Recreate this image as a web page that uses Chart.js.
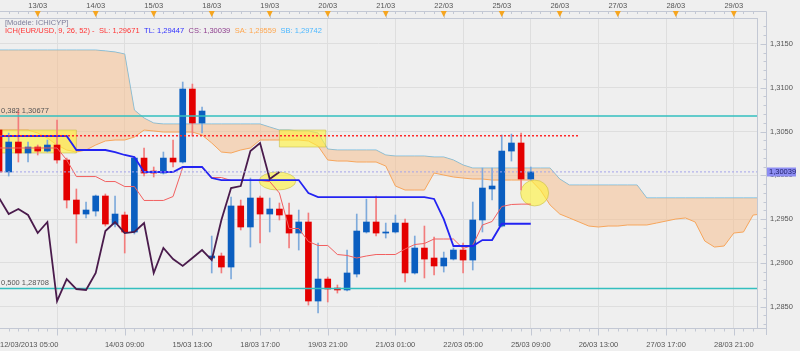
<!DOCTYPE html>
<html>
<head>
<meta charset="utf-8">
<title>EUR/USD - Ichimoku</title>
<script src="https://cdn.jsdelivr.net/npm/chart.js@4.4.0/dist/chart.umd.min.js"></script>
<style>
  html, body { margin: 0; padding: 0; background: #efefef; }
  #wrap { width: 800px; height: 351px; }
</style>
</head>
<body>
<div id="wrap"><canvas id="ichChart" width="800" height="351"></canvas></div>
<script>
// 4H candles, index 0 = 12/03/2013 05:00
const opens = [
  1.30517, 1.30038, 1.30380, 1.30255, 1.30323, 1.30277, 1.30346, 1.30175, 1.29718, 1.29558,
  1.29592, 1.29764, 1.29444, 1.29547, 1.29353, 1.30197, 1.30049, 1.30026, 1.30197, 1.30152,
  1.30985, 1.30597, 1.29056, 1.29079, 1.28953, 1.29650, 1.29410, 1.29741, 1.29558, 1.29615,
  1.29547, 1.29341, 1.29467, 1.28565, 1.28816, 1.28713, 1.28691, 1.28873, 1.29353, 1.29467,
  1.29341, 1.29353, 1.29455, 1.28885, 1.29170, 1.29056, 1.28965, 1.29044, 1.29147, 1.29033,
  1.29490, 1.29844, 1.29421, 1.30277, 1.30369, 1.29958
];
const highs = [
  1.30574, 1.30483, 1.30745, 1.30380, 1.30346, 1.30403, 1.30631, 1.30197, 1.29844, 1.29695,
  1.29775, 1.29787, 1.29764, 1.29581, 1.30209, 1.30312, 1.30095, 1.30266, 1.30403, 1.31065,
  1.31042, 1.30780, 1.29307, 1.29113, 1.29752, 1.29718, 1.29969, 1.29764, 1.29741, 1.29684,
  1.29684, 1.29604, 1.29570, 1.29227, 1.28839, 1.28748, 1.29147, 1.29558, 1.29729, 1.29764,
  1.29455, 1.29547, 1.29501, 1.29307, 1.29421, 1.29296, 1.29124, 1.29170, 1.29227, 1.29695,
  1.30083, 1.30083, 1.30460, 1.30471, 1.30483, 1.30095
];
const lows = [
  1.30003, 1.29992, 1.30152, 1.30152, 1.30232, 1.30266, 1.30140, 1.29627, 1.29227, 1.29513,
  1.29535, 1.29421, 1.29410, 1.29113, 1.29330, 1.29992, 1.29981, 1.30015, 1.30095, 1.30140,
  1.30449, 1.30483, 1.28885, 1.28885, 1.28816, 1.29376, 1.29181, 1.29227, 1.29353, 1.29490,
  1.29170, 1.29147, 1.28519, 1.28428, 1.28554, 1.28656, 1.28679, 1.28839, 1.29341, 1.29307,
  1.29284, 1.29341, 1.28782, 1.28873, 1.28828, 1.28862, 1.28896, 1.29033, 1.28885, 1.28919,
  1.29353, 1.29718, 1.29410, 1.30163, 1.29832, 1.29946
];
const closes = [
  1.30038, 1.30380, 1.30255, 1.30323, 1.30277, 1.30346, 1.30175, 1.29718, 1.29558, 1.29604,
  1.29764, 1.29444, 1.29558, 1.29353, 1.30197, 1.30026, 1.30026, 1.30197, 1.30152, 1.30985,
  1.30597, 1.30734, 1.29079, 1.28953, 1.29650, 1.29410, 1.29741, 1.29558, 1.29615, 1.29547,
  1.29341, 1.29467, 1.28565, 1.28816, 1.28702, 1.28691, 1.28885, 1.29364, 1.29467, 1.29341,
  1.29353, 1.29455, 1.28885, 1.29170, 1.29044, 1.28965, 1.29056, 1.29147, 1.29033, 1.29490,
  1.29855, 1.29878, 1.30277, 1.30369, 1.29958, 1.30039
];

// SL (red) and TL (blue)
const tenkan = [
  1.30312, 1.30312, 1.30312, 1.30312, 1.30312, 1.30312, 1.30312, 1.30175, 1.29986, 1.29986,
  1.29986, 1.29929, 1.29929, 1.29872, 1.29872, 1.29713, 1.29713, 1.29713, 1.29758, 1.30089,
  1.30089, 1.30089, 1.29975, 1.29975, 1.29941, 1.29941, 1.29941, 1.29941, 1.29929, 1.29798,
  1.29393, 1.29393, 1.29244, 1.29199, 1.29199, 1.29096, 1.29085, 1.29056, 1.29079, 1.29096,
  1.29096, 1.29096, 1.29159, 1.29210, 1.29222, 1.29273, 1.29273, 1.29273, 1.29165, 1.29200,
  1.29433, 1.29473, 1.29644, 1.29667, 1.29671, 1.29671
];
const kijun = [
  1.30449, 1.30449, 1.30449, 1.30449, 1.30449, 1.30449, 1.30449, 1.30449, 1.30289, 1.30289,
  1.30289, 1.30289, 1.30266, 1.30232, 1.30209, 1.30038, 1.30038, 1.30038, 1.30038, 1.30095,
  1.30095, 1.30095, 1.29969, 1.29946, 1.29946, 1.29946, 1.29946, 1.29946, 1.29946, 1.29946,
  1.29946, 1.29946, 1.29798, 1.29752, 1.29752, 1.29752, 1.29752, 1.29752, 1.29752, 1.29752,
  1.29752, 1.29752, 1.29752, 1.29752, 1.29752, 1.29730, 1.29500, 1.29193, 1.29193, 1.29193,
  1.29261, 1.29261, 1.29447, 1.29447, 1.29447, 1.29447
];

// cloud, already shifted 26 periods forward (index 0..81)
const senkouA = [
  1.30517, 1.30517, 1.30517, 1.30517, 1.30483, 1.30426, 1.30346, 1.30289, 1.30266, 1.30289,
  1.30346, 1.30392, 1.30403, 1.30403, 1.30437, 1.30517, 1.30506, 1.30494, 1.30494, 1.30494,
  1.30494, 1.30460, 1.30369, 1.30266, 1.30255, 1.30289, 1.30312, 1.30403, 1.30403, 1.30403,
  1.30403, 1.30403, 1.30392, 1.30334, 1.30175, 1.30163, 1.30163, 1.30152, 1.30152, 1.30152,
  1.30106, 1.29878, 1.29832, 1.29832, 1.29832, 1.30026, 1.30003, 1.29981, 1.29969, 1.29958,
  1.29958, 1.29946, 1.29946, 1.29946, 1.29946, 1.29946, 1.29832, 1.29661, 1.29558, 1.29513,
  1.29467, 1.29421, 1.29410, 1.29421, 1.29421, 1.29433, 1.29433, 1.29433, 1.29455, 1.29478,
  1.29501, 1.29513, 1.29467, 1.29250, 1.29181, 1.29193, 1.29341, 1.29353, 1.29547, 1.29559,
  1.29559, 1.29559
];
const senkouB = [
  1.31430, 1.31430, 1.31430, 1.31430, 1.31430, 1.31430, 1.31430, 1.31430, 1.31430, 1.31430,
  1.31430, 1.31420, 1.31408, 1.31385, 1.30745, 1.30654, 1.30597, 1.30586, 1.30586, 1.30586,
  1.30586, 1.30586, 1.30586, 1.30586, 1.30586, 1.30586, 1.30586, 1.30586, 1.30551, 1.30517,
  1.30517, 1.30506, 1.30506, 1.30483, 1.30300, 1.30289, 1.30289, 1.30289, 1.30289, 1.30289,
  1.30232, 1.30220, 1.30220, 1.30220, 1.30220, 1.30209, 1.30209, 1.30175, 1.30118, 1.30083,
  1.30083, 1.30083, 1.30083, 1.30083, 1.30083, 1.30083, 1.30083, 1.30083, 1.29958, 1.29889,
  1.29889, 1.29889, 1.29889, 1.29889, 1.29889, 1.29889, 1.29889, 1.29742, 1.29742, 1.29742,
  1.29742, 1.29742, 1.29742, 1.29742, 1.29742, 1.29742, 1.29742, 1.29742, 1.29742, 1.29742,
  1.29742, 1.29742
];

const fibRatios = [0.382, 0.5];
const fibPrices = [1.30677, 1.28708];
const resistLevel = 1.30452;
const resistEnd = 60;

const dayLabels = ['13/03', '14/03', '15/03', '18/03', '19/03', '20/03', '21/03', '22/03', '25/03', '26/03', '27/03', '28/03', '29/03'];
const dayIdx = [4, 10, 16, 22, 28, 34, 40, 46, 52, 58, 64, 70, 76];
const timeLabels = ['12/03/2013 05:00', '', '14/03 09:00', '15/03 13:00', '18/03 17:00', '19/03 21:00', '21/03 01:00', '22/03 05:00', '25/03 09:00', '26/03 13:00', '27/03 17:00', '28/03 21:00', ''];
const timeIdx = [0.1, 6, 13, 20, 27, 34, 41, 48, 55, 62, 69, 76, 78.4];
const priceTicks = [1.285, 1.290, 1.295, 1.300, 1.305, 1.310, 1.315];

// yellow marks, in index / price units
const marks = [
  { kind: 'rect', x0: 0, x1: 8, y0: 1.30517, y1: 1.30255 },
  { kind: 'rect', x0: 29, x1: 33.8, y0: 1.30517, y1: 1.30323 },
  { kind: 'ellipse', cx: 28.8, cy: 1.29935, rx: 1.9, ry: 0.00103 },
  { kind: 'ellipse', cx: 55.4, cy: 1.29798, rx: 1.45, ry: 0.00148 }
];

const X_MIN = 0.1, X_MAX = 78.4;
const Y_MIN = 1.28257, Y_MAX = 1.31796;
const FAMILY = '"Liberation Sans", Arial, sans-serif';
const CLOUD = 'rgba(248,188,136,0.5)';
const NONE = 'rgba(0,0,0,0)';

const fmt = (v, d) => v.toFixed(d).replace('.', ',');
const series = (arr) => arr.map((v, i) => ({ x: i, y: v }));
const flat = (v, x0, x1) => [{ x: x0, y: v }, { x: x1, y: v }];

const up = closes.map((c, i) => c >= opens[i]);
const bodyColors = up.map(u => u ? '#0b5ec0' : '#e40000');
const wickColors = up.map(u => u ? '#7eaadb' : '#f27c7c');
const chikou = closes.slice(26).map((c, j) => ({ x: j, y: c }));

const lineBase = { type: 'line', pointRadius: 0, tension: 0, fill: false };

const ichDecor = {
  id: 'ichDecor',
  beforeDraw(chart) {
    const c = chart.ctx;
    c.save();
    c.fillStyle = '#efefef';
    c.fillRect(0, 0, chart.width, chart.height);
    c.restore();
  },
  afterDatasetDraw(chart, args) {
    if (chart.data.datasets[args.index].label !== 'SA') return;
    const c = chart.ctx, a = chart.chartArea, xs = chart.scales.x, ys = chart.scales.y;
    c.save();
    c.beginPath();
    c.rect(a.left, a.top, a.right - a.left, a.bottom - a.top);
    c.clip();
    c.fillStyle = 'rgba(255,242,60,0.62)';
    c.strokeStyle = 'rgba(196,186,70,0.55)';
    c.lineWidth = 1;
    marks.forEach(m => {
      c.beginPath();
      if (m.kind === 'rect') {
        const x0 = xs.getPixelForValue(m.x0), x1 = xs.getPixelForValue(m.x1);
        const y0 = ys.getPixelForValue(m.y0), y1 = ys.getPixelForValue(m.y1);
        c.rect(x0, y0, x1 - x0, y1 - y0);
      } else {
        const cx = xs.getPixelForValue(m.cx), cy = ys.getPixelForValue(m.cy);
        const rx = xs.getPixelForValue(m.cx + m.rx) - cx;
        const ry = ys.getPixelForValue(m.cy - m.ry) - cy;
        c.ellipse(cx, cy, rx, ry, 0, 0, Math.PI * 2);
      }
      c.fill();
      c.stroke();
    });
    c.restore();
  },
  afterDraw(chart) {
    const c = chart.ctx, a = chart.chartArea, xs = chart.scales.x, ys = chart.scales.y;
    const axisX = a.right + 9.5;
    const by = a.bottom + 0.5;
    const colX = i => Math.round(xs.getPixelForValue(i)) + 0.5;
    c.save();
    c.strokeStyle = '#c3c8d4';
    c.lineWidth = 1;
    c.beginPath();
    // top ruler
    c.moveTo(a.left, 11.5); c.lineTo(axisX, 11.5);
    for (let i = 1; i < X_MAX; i++) { const x = colX(i); c.moveTo(x, 11.5); c.lineTo(x, 14); }
    dayIdx.forEach(i => { const x = colX(i); c.moveTo(x, 11.5); c.lineTo(x, a.top); });
    // bottom ruler
    c.moveTo(a.right, by); c.lineTo(axisX, by);
    for (let i = 1; i < X_MAX; i++) { const x = colX(i); c.moveTo(x, by); c.lineTo(x, by + 3); }
    timeIdx.slice(1, -1).forEach(i => { const x = colX(i); c.moveTo(x, by); c.lineTo(x, by + 7); });
    // right ruler
    c.moveTo(axisX, 11.5); c.lineTo(axisX, a.bottom + 7);
    for (let k = Math.ceil(Y_MIN * 1000); k <= Y_MAX * 1000; k++) {
      const y = Math.round(ys.getPixelForValue(k / 1000)) + 0.5;
      const len = k % 5 === 0 ? 6 : 3;
      c.moveTo(axisX - len, y); c.lineTo(axisX, y);
    }
    c.stroke();

    // day markers
    c.fillStyle = '#f6a51f';
    dayIdx.forEach(i => {
      const x = xs.getPixelForValue(i);
      c.beginPath();
      c.moveTo(x - 3, 11); c.lineTo(x + 3, 11); c.lineTo(x, 17);
      c.closePath();
      c.fill();
    });

    // indicator header
    c.font = '7.5px ' + FAMILY;
    c.textBaseline = 'middle';
    c.textAlign = 'left';
    c.fillStyle = '#7c7c9a';
    c.fillText('[Modèle: ICHICYP]', 5, 23);
    const parts = [
      ['ICH(EUR/USD, 9, 26, 52) -', '#ff3535'],
      ['SL: ' + fmt(tenkan[tenkan.length - 1], 5), '#ff3535'],
      ['TL: ' + fmt(kijun[kijun.length - 1], 5), '#3030ff'],
      ['CS: ' + fmt(closes[closes.length - 1], 5), '#8e3e8e'],
      ['SA: ' + fmt(senkouA[senkouA.length - 1], 5), '#ffa64d'],
      ['SB: ' + fmt(senkouB[senkouB.length - 1], 5), '#4db8ff']
    ];
    let lx = 5;
    parts.forEach(([txt, col]) => {
      c.fillStyle = col;
      c.fillText(txt, lx, 31);
      lx += c.measureText(txt).width + 4.5;
    });

    // fibonacci labels
    c.fillStyle = '#555';
    fibRatios.forEach((r, k) => {
      c.fillText(fmt(r, 3) + ' ' + fmt(fibPrices[k], 5), a.left + 1, ys.getPixelForValue(fibPrices[k]) - 5.5);
    });

    // last price box
    const last = closes[closes.length - 1];
    const yb = ys.getPixelForValue(last);
    c.fillStyle = '#8d8df3';
    c.fillRect(a.right + 10, Math.round(yb) - 4.5, 29, 9);
    c.fillStyle = '#1d1d66';
    c.fillText(fmt(last, 5), a.right + 12, yb);
    c.restore();
  }
};

const tickFont = { family: FAMILY, size: 7.5 };

new Chart(document.getElementById('ichChart'), {
  type: 'line',
  data: {
    datasets: [
      { ...lineBase, label: 'SB', data: series(senkouB), borderColor: '#74bde2', borderWidth: 1, order: 20, clip: 0 },
      { ...lineBase, label: 'SA', data: series(senkouA), borderColor: '#f7a65c', borderWidth: 1, order: 19, clip: 0,
        fill: { target: '-1', above: CLOUD, below: CLOUD } },
      { type: 'bar', label: 'wicks', data: lows.map((l, i) => ({ x: i, y: [l, highs[i]] })),
        backgroundColor: wickColors, barThickness: 1, grouped: false, order: 12 },
      { type: 'bar', label: 'bodies', data: opens.map((o, i) => ({ x: i, y: [o, closes[i]] })),
        backgroundColor: bodyColors, barThickness: 6, minBarLength: 1, grouped: false, order: 11 },
      { ...lineBase, label: 'fib382', data: flat(fibPrices[0], X_MIN, X_MAX), borderColor: '#33bfbf', borderWidth: 1.6, order: 6 },
      { ...lineBase, label: 'fib500', data: flat(fibPrices[1], X_MIN, X_MAX), borderColor: '#33bfbf', borderWidth: 1.6, order: 6 },
      { ...lineBase, label: 'SL', data: series(tenkan), borderColor: '#f26060', borderWidth: 1, order: 5 },
      { ...lineBase, label: 'TL', data: series(kijun), borderColor: '#2323f2', borderWidth: 1.8, order: 4 },
      { ...lineBase, label: 'CS', data: chikou, borderColor: '#4a1b4c', borderWidth: 1.8, order: 3 },
      { ...lineBase, label: 'resist', data: flat(resistLevel, X_MIN, resistEnd), borderColor: '#ff2a2a', borderWidth: 1.5, borderDash: [2, 2], order: 2 },
      { ...lineBase, label: 'last', data: flat(closes[closes.length - 1], X_MIN, X_MAX), borderColor: '#a3a3ea', borderWidth: 1, borderDash: [2, 2], order: 1 }
    ]
  },
  options: {
    responsive: false,
    devicePixelRatio: 1,
    animation: false,
    events: [],
    layout: { padding: 0 },
    plugins: { legend: { display: false }, tooltip: { enabled: false } },
    scales: {
      x: {
        type: 'linear', position: 'bottom', min: X_MIN, max: X_MAX, offset: false,
        afterBuildTicks: s => { s.ticks = timeIdx.map(v => ({ value: v })); },
        afterFit: s => { s.height = 23; s.paddingLeft = 0; s.paddingRight = 0; },
        grid: {
          offset: false, drawTicks: true, tickLength: 12.5, tickColor: NONE,
          color: ctx => (ctx.index > 0 && ctx.index < timeIdx.length - 1) ? '#dedede' : NONE
        },
        border: { color: '#c3c8d4' },
        ticks: { autoSkip: false, maxRotation: 0, align: 'inner', padding: 0, color: '#555', font: tickFont,
          callback: (v, i) => timeLabels[i] }
      },
      xTop: {
        type: 'linear', position: 'top', min: X_MIN, max: X_MAX, offset: false,
        afterBuildTicks: s => { s.ticks = dayIdx.map(v => ({ value: v })); },
        afterFit: s => { s.height = 18; s.paddingLeft = 0; s.paddingRight = 0; },
        grid: { display: false, drawTicks: true, tickLength: 8, tickColor: NONE, offset: false },
        border: { color: '#c3c8d4' },
        ticks: { autoSkip: false, maxRotation: 0, padding: 0, color: '#555', font: tickFont,
          callback: (v, i) => dayLabels[i] }
      },
      y: {
        type: 'linear', position: 'right', min: Y_MIN, max: Y_MAX,
        afterBuildTicks: s => { s.ticks = priceTicks.map(v => ({ value: v })); },
        afterFit: s => { s.width = 43; },
        grid: { color: '#dedede', drawTicks: false },
        border: { color: '#c3c8d4' },
        ticks: { padding: 13, color: '#555', font: tickFont, callback: v => fmt(v, 4) }
      }
    }
  },
  plugins: [ichDecor]
});
</script>
</body>
</html>
